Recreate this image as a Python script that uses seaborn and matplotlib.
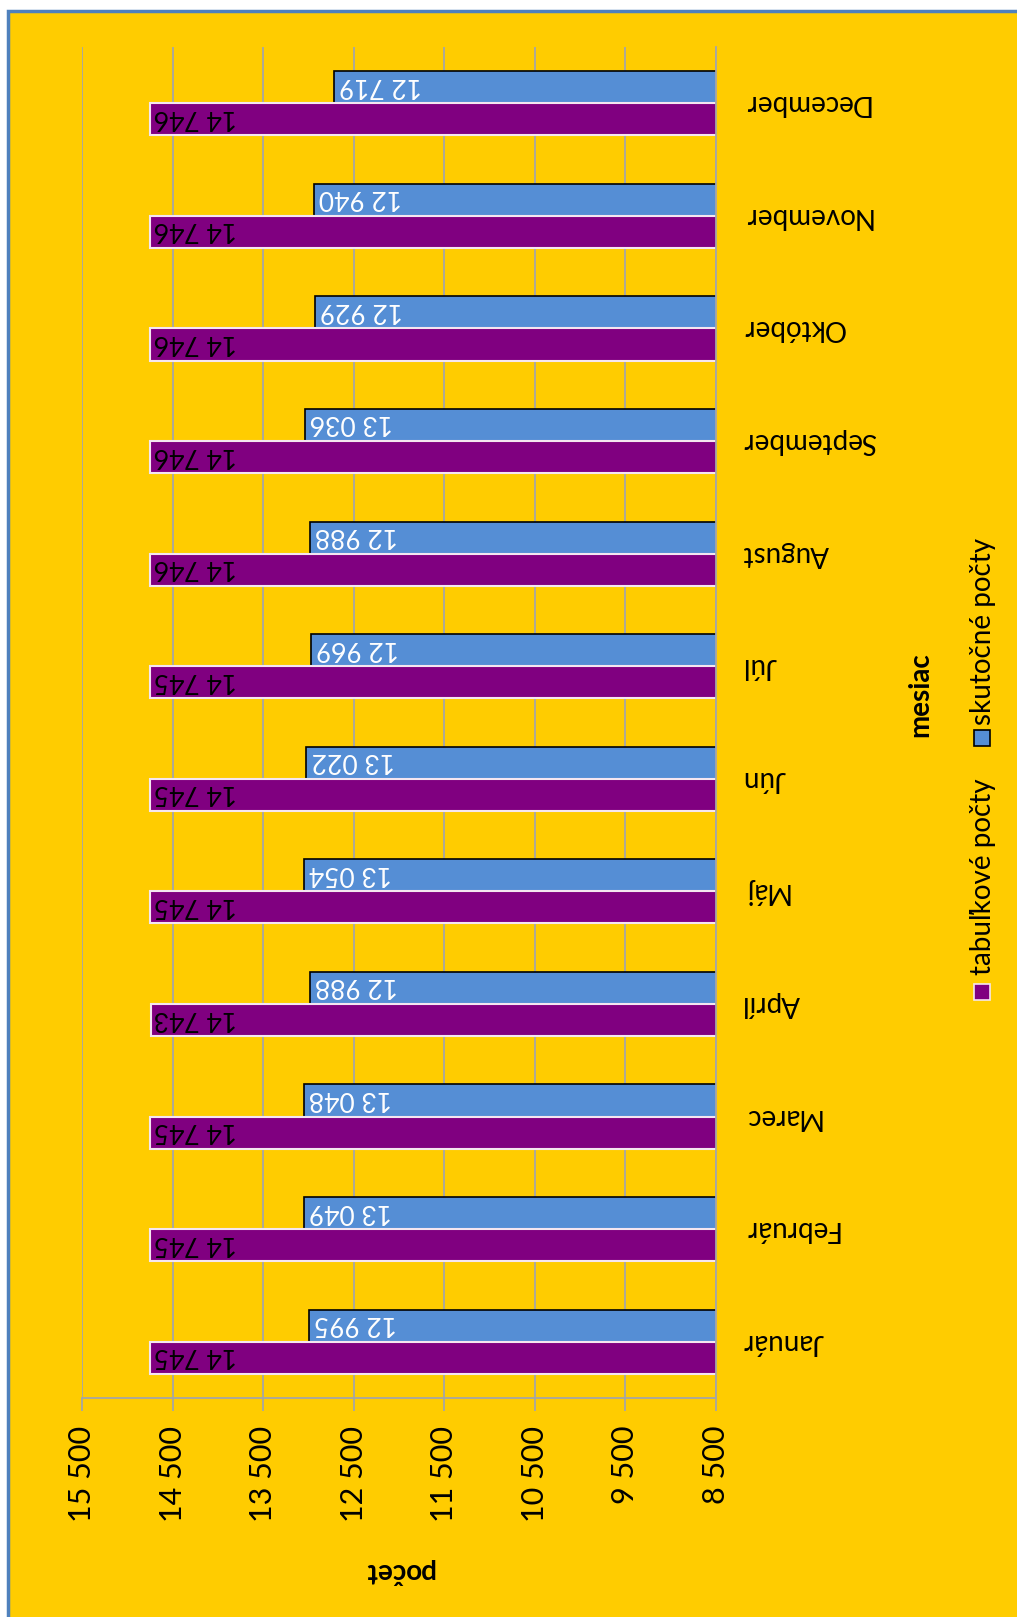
import numpy as np
import pandas as pd
import matplotlib
matplotlib.use("Agg")
import matplotlib.pyplot as plt
from matplotlib.patches import Rectangle
import seaborn as sns

# údaje z grafu
mesiace = ["Január", "Február", "Marec", "Apríl", "Máj", "Jún",
           "Júl", "August", "September", "Október", "November", "December"]
tabulkove = [14745, 14745, 14745, 14743, 14745, 14745,
             14745, 14746, 14746, 14746, 14746, 14746]
skutocne = [12995, 13049, 13048, 12988, 13054, 13022,
            12969, 12988, 13036, 12929, 12940, 12719]
serie = ["tabuľkové počty", "skutočné počty"]
x_ticks = [8500, 9500, 10500, 11500, 12500, 13500, 14500, 15500]

GOLD = "#FFCC00"
PURPLE = "#800080"
BLUE = "#558ED5"
GRID = "#A6A6A6"
FONT = ["Lato", "DejaVu Sans"]

plt.rcParams["font.family"] = FONT
plt.rcParams["font.size"] = 20

W, H = 1017, 1617
fig = plt.figure(figsize=(W / 100, H / 100), dpi=100, facecolor="white")

# rám grafu (Excel chart area)
fig.patches.append(Rectangle((8 / W, -0.05), 1.1, 1 - 11 / H + 0.05,
                             transform=fig.transFigure, facecolor=GOLD,
                             edgecolor="#4F81BD", linewidth=2.5, zorder=-10))

ax = fig.add_axes([82 / W, 1 - 1398 / H, 634 / W, 1351 / H])
ax.set_facecolor(GOLD)

df = pd.DataFrame({
    "mesiac": mesiace * 2,
    "počet": tabulkove + skutocne,
    "séria": [serie[0]] * 12 + [serie[1]] * 12,
})

sns.barplot(data=df, y="mesiac", x="počet", hue="séria", orient="h",
            order=mesiace[::-1], hue_order=[serie[1], serie[0]],
            palette={serie[0]: PURPLE, serie[1]: BLUE},
            width=0.57, errorbar=None, legend=False, saturation=1, ax=ax)

# okraje stĺpcov a popisky hodnôt
cont_blue, cont_purple = ax.containers[0], ax.containers[1]
for bar in cont_blue:
    bar.set_edgecolor("black")
    bar.set_linewidth(1.2)
for bar in cont_purple:
    bar.set_edgecolor("#F5E6F0")
    bar.set_linewidth(1.5)

LBL_SIZE = 19
dy = 0.72 * LBL_SIZE * 100 / 72 / 2  # polovica výšky číslic v pixeloch
for cont, color, off in [(cont_blue, "white", 5), (cont_purple, "black", 3)]:
    for bar in cont:
        val = int(round(bar.get_width()))
        yc = bar.get_y() + bar.get_height() / 2
        ax.annotate(f"{val:,}".replace(",", " "), (val, yc),
                    xytext=(off, dy), textcoords="offset pixels",
                    rotation=180, rotation_mode="anchor",
                    ha="right", va="baseline",
                    fontsize=LBL_SIZE, color=color, clip_on=False)

ax.set_xlim(15500, 8500)
ax.set_xticks(x_ticks)
ax.set_xticklabels([f"{t:,}".replace(",", " ") for t in x_ticks], rotation=90)
ax.xaxis.grid(True, color=GRID, linewidth=1.3)
ax.set_axisbelow(True)

ax.tick_params(axis="x", direction="out", length=9, width=1.3, color=GRID,
               pad=11, labelsize=22)
for lab in ax.get_xticklabels():
    lab.set_va("top")

ax.yaxis.tick_right()
ax.tick_params(axis="y", length=0, pad=19, labelsize=20,
               labelright=True, labelleft=False)
for lab in ax.get_yticklabels():
    lab.set_rotation(180)
    lab.set_va("center")
    lab.set_ha("left")

for side in ["top", "left"]:
    ax.spines[side].set_visible(False)
for side in ["right", "bottom"]:
    ax.spines[side].set_color(GRID)
    ax.spines[side].set_linewidth(1.3)

ax.set_ylabel("")
ax.set_xlabel("počet", rotation=180, fontweight="bold", fontsize=20, labelpad=26)

# názov osi kategórií a legenda
fig.text(920 / W, 1 - 695 / H, "mesiac", rotation=90, fontweight="bold",
         ha="center", va="center", fontsize=20)

for name, color, sq_y, txt_y, ec in [(serie[0], PURPLE, 992, 975, "#F5E6F0"),
                                     (serie[1], BLUE, 738, 725, "black")]:
    fig.patches.append(Rectangle(((982 - 8) / W, 1 - (sq_y + 8) / H), 16 / W, 16 / H,
                                 transform=fig.transFigure, facecolor=color,
                                 edgecolor=ec, linewidth=1.2))
    fig.text(983 / W, 1 - txt_y / H, name, rotation=90, ha="center", va="bottom",
             fontsize=20)

fig.savefig("out.png", dpi=100, facecolor="white")
